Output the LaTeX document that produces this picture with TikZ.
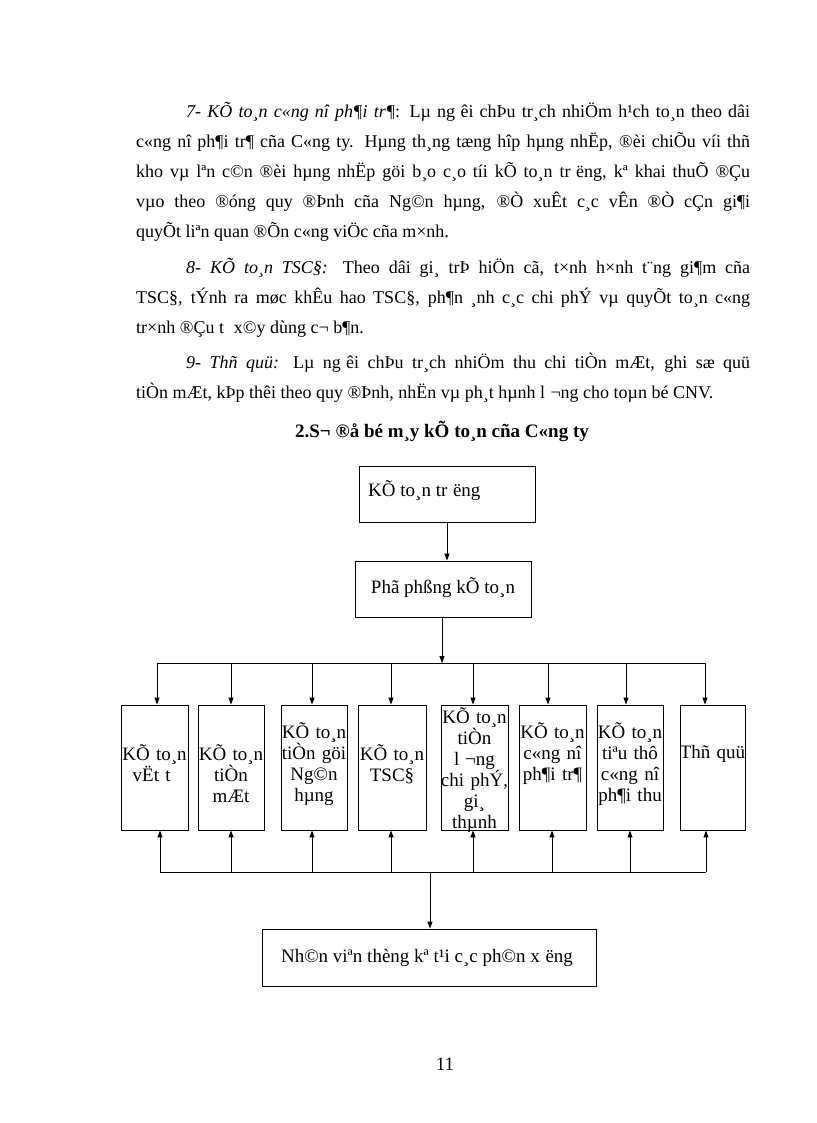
\documentclass[tikz,border=0pt]{standalone}
\usepackage{fontspec}
\setmainfont{Liberation Serif}
\usetikzlibrary{arrows.meta}
\newcommand{\sfh}{\kern.3em\relax}
\newcommand{\bodypar}[1]{\parbox[t]{614pt}{\tolerance=9999\relax\pretolerance=-1\relax\hyphenpenalty=10000\relax
  \noindent\hbox to 50pt{}#1}}
\begin{document}
\begin{tikzpicture}[x=1pt,y=-1pt,
  body/.style={anchor=base west,inner sep=0pt,
    font=\fontsize{18}{30}\selectfont},
  box/.style={draw,line width=0.9pt,inner sep=0pt},
  lbl/.style={inner sep=0pt,text width=80pt,align=center,anchor=base,
    font=\fontsize{19}{21.2}\selectfont},
  txt/.style={inner sep=0pt,font=\fontsize{19}{21.2}\selectfont},
  arr/.style={line width=0.9pt,-{Triangle[length=7pt,width=5pt]}},
  ln/.style={line width=0.9pt}]
\useasboundingbox[fill=white] (0,0) rectangle (816,1123);

% body text
\node[body] (p7) at (136,118) {\bodypar{\textit{7- KÕ to¸n c«ng nî ph¶i tr¶}: Lµ ng\sfh êi chÞu tr¸ch nhiÖm h¹ch to¸n theo dâi\linebreak
c«ng nî ph¶i tr¶ cña C«ng ty. Hµng th¸ng tæng hîp hµng nhËp, ®èi chiÕu víi thñ\linebreak
kho vµ lªn c©n ®èi hµng nhËp göi b¸o c¸o tíi kÕ to¸n tr\sfh ëng, kª khai thuÕ ®Çu\linebreak
vµo theo ®óng quy ®Þnh cña Ng©n hµng, ®Ò xuÊt c¸c vÊn ®Ò cÇn gi¶i\linebreak
quyÕt liªn quan ®Õn c«ng viÖc cña m×nh.}};
\node[body] (p8) at (136,273) {\bodypar{\textit{8- KÕ to¸n TSC§:} Theo dâi gi¸ trÞ hiÖn cã, t×nh h×nh t¨ng gi¶m cña\linebreak
TSC§, tÝnh ra møc khÊu hao TSC§, ph¶n ¸nh c¸c chi phÝ vµ quyÕt to¸n c«ng\linebreak
tr×nh ®Çu t\sfh\ x©y dùng c¬ b¶n.}};
\node[body] (p9) at (136,368) {\bodypar{\textit{9- Thñ quü:} Lµ ng\sfh êi chÞu tr¸ch nhiÖm thu chi tiÒn mÆt, ghi sæ quü\linebreak
tiÒn mÆt, kÞp thêi theo quy ®Þnh, nhËn vµ ph¸t hµnh l\sfh ¬ng cho toµn bé CNV.}};

% title
\node[txt,anchor=base,font=\fontsize{19}{21}\selectfont\bfseries] (title) at (442,437) {2.S¬ ®å bé m¸y kÕ to¸n cña C«ng ty};

% boxes
\node[box,minimum width=176pt,minimum height=56pt] (top) at (447,494) {};
\node[box,minimum width=176pt,minimum height=56pt] (pp) at (443,589) {};
\node[box,minimum width=67pt,minimum height=125pt] (b1) at (154.5,767.5) {};
\node[box,minimum width=66pt,minimum height=125pt] (b2) at (231,767.5) {};
\node[box,minimum width=66pt,minimum height=125pt] (b3) at (314,767.5) {};
\node[box,minimum width=68pt,minimum height=125pt] (b4) at (392,767.5) {};
\node[box,minimum width=67pt,minimum height=125pt] (b5) at (474.5,767.5) {};
\node[box,minimum width=67pt,minimum height=125pt] (b6) at (552.5,767.5) {};
\node[box,minimum width=66pt,minimum height=125pt] (b7) at (630,767.5) {};
\node[box,minimum width=65pt,minimum height=125pt] (b8) at (712.5,767.5) {};
\node[box,minimum width=334pt,minimum height=57pt] (bot) at (429,957.5) {};

% labels
\node[txt,anchor=base west] (ltop) at (368,496) {KÕ to¸n tr\sfh ëng};
\node[txt,anchor=base] (lpp) at (443,593) {Phã phßng kÕ to¸n};
\node[lbl] (l1) at (154.5,760) {KÕ to¸n\\vËt t\sfh};
\node[lbl] (l2) at (231,760) {KÕ to¸n\\tiÒn\\mÆt};
\node[lbl] (l3) at (314,738) {KÕ to¸n\\tiÒn göi\\Ng©n\\hµng};
\node[lbl] (l4) at (392,760) {KÕ to¸n\\TSC§};
\node[lbl,font=\fontsize{19}{21}\selectfont] (l5) at (474.5,723) {KÕ to¸n\\tiÒn\\l\sfh ¬ng\\chi phÝ,\\gi¸\\thµnh};
\node[lbl] (l6) at (552.5,738) {KÕ to¸n\\c«ng nî\\ph¶i tr¶};
\node[lbl] (l7) at (630,738) {KÕ to¸n\\tiªu thô\\c«ng nî\\ph¶i thu};
\node[lbl] (l8) at (712.5,758) {Thñ quü};
\node[txt,anchor=base] (lbot) at (427,962) {Nh©n viªn thèng kª t¹i c¸c ph©n x\sfh ëng};

% page number
\node[txt,anchor=base] (pg) at (445,1070) {11};

% connectors
\draw[arr] (top.south) -- (top.south |- pp.north);
\coordinate (busA) at (442,663);
\draw[arr] (pp.south -| busA) -- (busA);
\coordinate (busAL) at (157,663);
\coordinate (busAR) at (705,663);
\draw[ln] (busAL) -- (busAR);
\foreach \x/\b [count=\i] in {157/b1,231/b2,312/b3,391/b4,473/b5,548/b6,626/b7,705/b8}{
  \coordinate (d\i) at (\x,663);
  \draw[arr] (d\i) -- (d\i |- \b.north);
}
\coordinate (busBL) at (160,872);
\coordinate (busBR) at (706,872);
\draw[ln] (busBL) -- (busBR);
\foreach \x/\b [count=\i] in {160/b1,231/b2,312/b3,391/b4,473/b5,552/b6,630/b7,706/b8}{
  \coordinate (u\i) at (\x,872);
  \draw[arr] (u\i) -- (u\i |- \b.south);
}
\coordinate (busB) at (430,872);
\draw[arr] (busB) -- (busB |- bot.north);
\end{tikzpicture}
\end{document}
